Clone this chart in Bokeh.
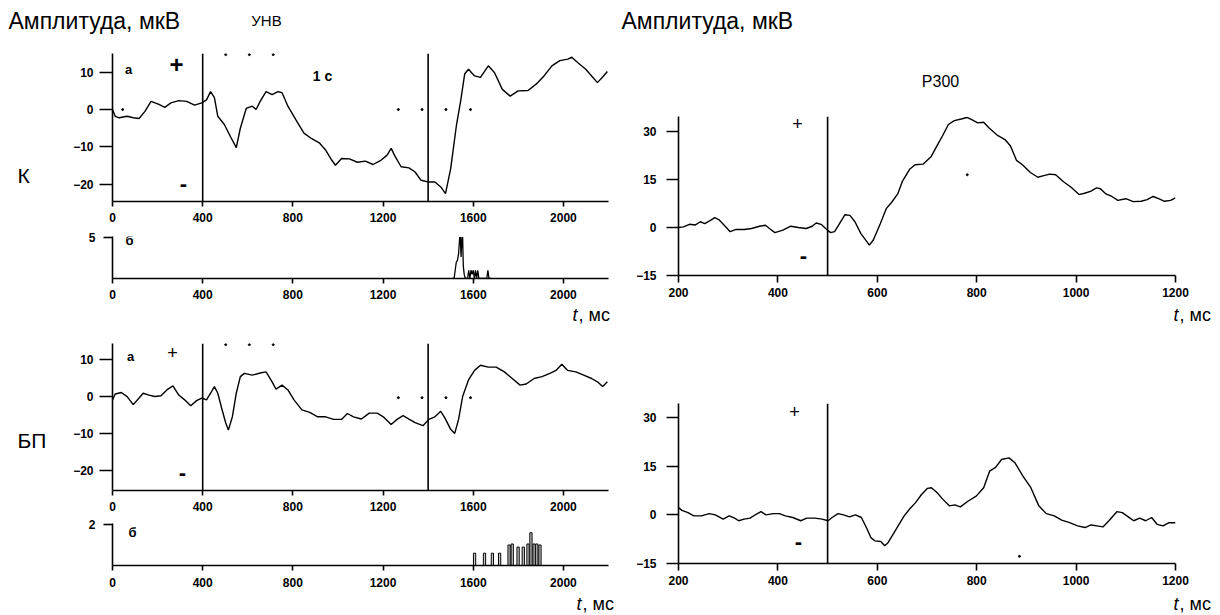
from bokeh.plotting import figure
from bokeh.models import Range1d, FixedTicker, Label, Span
from bokeh.layouts import row, column
from bokeh.embed import file_html
from bokeh.resources import INLINE

# ---------------- data ----------------
# K, panel a: averaged potential (mkV) vs time (ms)
K_a_t = [0, 12, 30, 65, 92, 118, 144, 171, 206, 232, 259, 294, 329, 364, 396, 417, 435, 452, 467, 496,
         523, 549, 567, 593, 620, 637, 655, 681, 708, 734, 752, 778, 813, 849, 884, 919, 945, 972, 989, 1016,
         1051, 1086, 1121, 1156, 1192, 1218, 1236, 1254, 1280, 1315, 1342, 1368, 1403, 1430, 1456, 1477, 1500, 1526, 1544, 1562,
         1579, 1606, 1632, 1667, 1694, 1729, 1764, 1799, 1843, 1879, 1914, 1949, 1984, 2020, 2037, 2063, 2099, 2125, 2151, 2178, 2195]
K_a_v = [0, -1.8, -2.2, -1.8, -2.2, -2.4, -0.5, 2.2, 1.4, 0.6, 1.8, 2.4, 2.2, 1.2, 1.8, 2.6, 4.8, 3.2, -1.8, -4,
         -7.2, -10.2, -5, 0.3, 0.9, 0, 2.2, 4.8, 4, 4.8, 4.5, 0.9, -2.7, -6.3, -7.8, -9, -10.8, -13.5, -14.9, -13.1,
         -13.2, -14.1, -13.8, -14.7, -13.5, -12.2, -10.4, -12.6, -15.3, -15.6, -16.7, -18.9, -19.4, -19.4, -20.7, -22.5, -15.8, -4, 2.2, 9.5,
         10.8, 9, 8.6, 11.7, 9.9, 5.4, 3.6, 5, 5.1, 6.8, 9, 11.7, 13.1, 13.5, 14, 12.6, 10.8, 9, 7.2, 9, 10.2]
# K, panel b: histogram
K_hist_t = [1505, 1515, 1520, 1525, 1530, 1535, 1540, 1543, 1546, 1550, 1553, 1556, 1560, 1565, 1575, 1580, 1585, 1590, 1595, 1600,
            1605, 1610, 1615, 1620, 1625, 1660, 1665, 1670, 1680]
K_hist_n = [0, 0, 1, 2, 2.2, 3, 5, 5, 2.6, 5, 5, 1.5, 0.5, 0, 0, 1, 0, 1, 0.5, 1,
            0, 1, 0, 1, 0, 0, 1, 0, 0]
# BP, panel a
B_a_t = [0, 12, 39, 65, 92, 118, 136, 162, 188, 215, 241, 268, 294, 320, 347, 373, 396, 417, 435, 452,
         467, 484, 502, 514, 532, 549, 567, 585, 620, 655, 681, 708, 725, 752, 778, 805, 840, 875, 910, 945,
         981, 1016, 1042, 1069, 1104, 1139, 1174, 1201, 1236, 1262, 1289, 1315, 1342, 1377, 1403, 1430, 1456, 1474, 1500, 1518,
         1535, 1553, 1579, 1606, 1632, 1667, 1702, 1738, 1773, 1808, 1835, 1870, 1905, 1940, 1967, 1993, 2019, 2055, 2090, 2125,
         2151, 2174, 2195]
B_a_v = [-0.9, 0.7, 1.1, 0, -2.2, -0.4, 0.9, 0.4, 0, 0.2, 1.8, 2.9, 0.4, -0.9, -2.5, -1.1, -0.4, -0.9, 0.9, 2.7,
         0.9, -3.1, -7.1, -9.1, -5.4, 0.9, 5.4, 6.3, 5.8, 6.4, 6.7, 4, 2, 3.1, 1.8, -0.9, -3.6, -4.3, -5.5, -5.5,
         -6.2, -6.2, -4.6, -5.5, -6.1, -4.5, -4.5, -5.5, -7.6, -6.2, -5.2, -6.1, -7.1, -7.9, -6.2, -5.5, -4, -5.8, -8.9, -10,
         -6.2, 0, 4.5, 7.1, 8.5, 8, 8, 6.7, 4.9, 3.1, 3.4, 4.9, 5.4, 6.3, 7.1, 8.75, 7.1, 6.7, 5.8, 4.9,
         4, 2.7, 4]
# BP, panel b: histogram spikes
B_hist_t = [1606, 1650, 1685, 1717, 1759, 1773, 1799, 1822, 1843, 1856, 1870, 1882, 1896]
B_hist_n = [0.6, 0.6, 0.6, 0.6, 1.0, 1.05, 0.9, 0.9, 1.05, 1.6, 1.05, 1.05, 1.0]
# P300, K
KP_t = [200, 210, 222, 234, 244, 253, 265, 273, 281, 292, 304, 316, 332, 347, 363, 375, 383, 394, 410, 426,
        441, 457, 469, 477, 487, 496, 506, 514, 524, 535, 545, 555, 567, 579, 584, 592, 606, 618, 629, 641,
        651, 665, 676, 692, 708, 720, 731, 743, 755, 771, 780, 790, 802, 814, 825, 841, 857, 868, 880, 892,
        908, 923, 935, 947, 959, 974, 990, 1006, 1017, 1029, 1041, 1049, 1060, 1072, 1084, 1100, 1115, 1131, 1143, 1155,
        1166, 1178, 1190, 1200]
KP_v = [0, 0.2, 1, 0.8, 1.8, 1.2, 2.3, 3.1, 2.5, 0.7, -1.3, -0.6, -0.6, -0.3, 0.4, 0.7, -0.3, -1.6, -0.8, 0.4,
        0, -0.3, 0.4, 1.4, 1, -0.3, -1.6, -1.3, 1.2, 4, 3.8, 1.8, -1.9, -4.4, -5.5, -3.9, 1.2, 5.9, 7.9, 10.5,
        14.6, 18.2, 19.6, 19.8, 22.1, 25.5, 28.6, 32.2, 33.4, 34, 34.4, 33.7, 32.7, 32.9, 31.1, 28.9, 27.5, 25.5, 21, 19.6,
        17.2, 15.7, 16.2, 16.7, 16.5, 14.4, 12.6, 10.3, 10.7, 11.3, 12.4, 12.1, 10.5, 9.7, 8.5, 9, 8.1, 8.2, 8.7, 9.7,
        9, 8.2, 8.5, 9.3]
# P300, BP
BP_t = [200, 207, 219, 231, 246, 262, 274, 290, 302, 313, 321, 332, 344, 356, 366, 376, 391, 403, 415, 430,
        446, 458, 474, 489, 501, 509, 521, 532, 544, 556, 568, 578, 587, 595, 607, 615, 622, 638, 654, 666,
        677, 689, 701, 709, 720, 732, 745, 756, 767, 783, 799, 814, 826, 838, 850, 865, 877, 893, 909, 925,
        940, 956, 971, 987, 1003, 1018, 1030, 1042, 1054, 1066, 1082, 1093, 1105, 1116, 1128, 1140, 1152, 1163, 1175, 1187,
        1200]
BP_v = [2.3, 1.4, 0.7, -0.3, -0.3, 0.4, 0, -1.3, -0.3, -1, -1.8, -1.3, -1, 0.2, 1, 0, 0.4, 0.4, -0.3, -0.8,
        -1.8, -1, -1, -1.3, -1.8, -0.8, 0.4, 0, -0.6, 0, -0.8, -3.9, -7, -8, -8.2, -9.5, -8.5, -4.4, -0.3, 2,
        3.8, 6.3, 8.2, 8.4, 6.9, 4.8, 2.8, 3.1, 2.5, 4.3, 5.8, 8.4, 13.5, 14.7, 17.1, 17.6, 16.1, 12, 8.4, 2.8,
        0.4, -0.3, -1.6, -2.4, -3.4, -3.9, -3.1, -3.4, -3.7, -1.8, 1, 0.7, -0.6, -1.8, -1, -1.8, -0.8, -2.9, -3.4, -2.4,
        -2.4]
# stimulus markers
long_events = [400, 1400]
p300_events = [500]
K_dots_t = [45, 502, 607, 713, 1268, 1373, 1479, 1588]
K_dots_v = [0, 14.7, 14.7, 14.7, 0, 0, 0, 0]
B_dots_t = [502, 607, 713, 1268, 1373, 1479, 1588]
B_dots_v = [14.1, 14.1, 14.1, -0.3, -0.3, -0.3, -0.3]
KP_dot_t, KP_dot_v = [781], [16.5]
BP_dot_t, BP_dot_v = [886], [-12.8]
# axes
long_xticks = [0, 400, 800, 1200, 1600, 2000]
long_yticks = [-20, -10, 0, 10]
p300_xticks = [200, 400, 600, 800, 1000, 1200]
p300_yticks = [-15, 0, 15, 30]

FONT = "Liberation Sans"

# geometry: canvas left, top, width, height, frame left, right, top, bottom (page px)
G_Ka = (62, 40, 558, 186, 112, 608, 53, 201)
G_Kb = (62, 226, 558, 77, 112, 608, 236, 278)
G_Ba = (62, 325, 558, 191, 112, 608, 343, 490)
G_Bb = (62, 516, 558, 76, 112, 608, 523, 565)
G_KP = (620, 100, 596, 200, 678, 1175, 116, 275)
G_BP = (620, 325, 596, 267, 678, 1175, 403, 563)

R_long = (0, 2200)
R_p300 = (200, 1200)


def make_panel(g, xr, yr):
    cl, ct, W, H, fl, fr, ft, fb = g
    p = figure(width=W, height=H, x_range=Range1d(*xr), y_range=Range1d(*yr),
               output_backend="svg", toolbar_location=None,
               min_border_left=fl - cl, min_border_right=cl + W - fr,
               min_border_top=ft - ct, min_border_bottom=ct + H - fb)
    p.outline_line_color = None
    p.grid.visible = False
    p.background_fill_color = "white"
    p.border_fill_color = "white"
    p._geom = (g, xr, yr)
    return p


def text_fig(cl, ct, W, H):
    # a blank canvas whose data coordinates equal page pixels (y downward)
    p = figure(width=W, height=H, x_range=Range1d(cl, cl + W), y_range=Range1d(ct + H, ct),
               output_backend="svg", toolbar_location=None, x_axis_type=None, y_axis_type=None,
               min_border=0, min_border_left=0, min_border_right=0, min_border_top=0, min_border_bottom=0)
    p.outline_line_color = None
    p.grid.visible = False
    p.background_fill_color = "white"
    p.border_fill_color = "white"
    p._geom = ((cl, ct, W, H, cl, cl + W, ct, ct + H), (cl, cl + W), (ct + H, ct))
    return p


def style_axes(p, xticks, yticks, xout, yout, xstand, ystand):
    ax = p.xaxis[0]
    ay = p.yaxis[0]
    ax.ticker = FixedTicker(ticks=xticks)
    ay.ticker = FixedTicker(ticks=yticks)
    ax.major_tick_out = xout
    ay.major_tick_out = yout
    ax.major_label_standoff = xstand
    ay.major_label_standoff = ystand
    for a in (ax, ay):
        a.axis_line_width = 1.6
        a.axis_line_color = "black"
        a.major_tick_line_width = 1.6
        a.major_tick_line_color = "black"
        a.major_tick_in = 0
        a.minor_tick_line_color = None
        a.major_label_text_font = FONT
        a.major_label_text_font_style = "bold"
        a.major_label_text_font_size = "12px"
        a.major_label_text_color = "black"


def text(p, X, Y, s, size, style="normal", align="left"):
    g, xr, yr = p._geom
    cl, ct, W, H, fl, fr, ft, fb = g
    x = xr[0] + (X - fl) / (fr - fl) * (xr[1] - xr[0])
    y = yr[1] - (Y - ft) / (fb - ft) * (yr[1] - yr[0])
    p.add_layout(Label(x=x, y=y, text=s, text_font=FONT, text_font_size=f"{size}px",
                       text_font_style=style, text_align=align, text_baseline="middle",
                       text_color="black"))


def t_ms(p, X, Y):
    text(p, X, Y, "t", 18, "italic")
    text(p, X + 6, Y, ", мс", 18)


# ---- text strips ----
HL = text_fig(0, 0, 620, 40)
text(HL, 8, 20, "Амплитуда, мкВ", 23)
text(HL, 266, 20, "УНВ", 15, align="center")
SK = text_fig(0, 40, 62, 285)
text(SK, 17, 175, "К", 21)
FK = text_fig(62, 303, 558, 22)
t_ms(FK, 572, 314)
SB = text_fig(0, 325, 62, 289)
text(SB, 17, 440, "БП", 21)
FB = text_fig(62, 592, 558, 22)
t_ms(FB, 576, 603)
HR = text_fig(620, 0, 596, 100)
text(HR, 621, 20, "Амплитуда, мкВ", 23)
text(HR, 940, 81, "P300", 16, align="center")
FR1 = text_fig(620, 300, 596, 25)
t_ms(FR1, 1173, 314)
FR2 = text_fig(620, 592, 596, 22)
t_ms(FR2, 1173, 603)

# ---- K, a ----
Ka = make_panel(G_Ka, R_long, (-24.6, 15.0))
style_axes(Ka, long_xticks, long_yticks, 5, 13, 6, 6)
Ka.line(K_a_t, K_a_v, line_color="black", line_width=1.4)
for e in long_events:
    Ka.add_layout(Span(location=e, dimension="height", line_color="black", line_width=1.6))
Ka.scatter(K_dots_t, K_dots_v, size=2, color="black")
text(Ka, 322, 75, "1 с", 14, "bold", align="center")
text(Ka, 128, 69, "а", 13, "bold", align="center")
text(Ka, 176, 64, "+", 24, "bold", align="center")
text(Ka, 183, 183, "-", 22, "bold", align="center")

# ---- K, b ----
Kb = make_panel(G_Kb, R_long, (0, 5.1))
style_axes(Kb, long_xticks, [5], 5, 9, 6, 8)
Kb.line(K_hist_t, K_hist_n, line_color="black", line_width=1.3)
text(Kb, 129, 240, "б", 13, "bold", align="center")

# ---- BP, a ----
Ba = make_panel(G_Ba, R_long, (-25.5, 14.4))
style_axes(Ba, long_xticks, long_yticks, 5, 13, 6, 6)
Ba.line(B_a_t, B_a_v, line_color="black", line_width=1.4)
for e in long_events:
    Ba.add_layout(Span(location=e, dimension="height", line_color="black", line_width=1.6))
Ba.scatter(B_dots_t, B_dots_v, size=2, color="black")
text(Ba, 130, 356, "а", 13, "bold", align="center")
text(Ba, 172, 352, "+", 18, align="center")
text(Ba, 182, 472, "-", 22, "bold", align="center")

# ---- BP, b ----
Bb = make_panel(G_Bb, R_long, (0, 2.05))
style_axes(Bb, long_xticks, [2], 5, 9, 7, 8)
Bb.vbar(x=B_hist_t, top=B_hist_n, bottom=0, width=10, fill_color="#c8c8c8", line_color="black", line_width=1)
text(Bb, 132, 532, "б", 13, "bold", align="center")

# ---- P300, K ----
KP = make_panel(G_KP, R_p300, (-15, 34.7))
style_axes(KP, p300_xticks, p300_yticks, 7, 12, 5, 10)
KP.line(KP_t, KP_v, line_color="black", line_width=1.4)
for e in p300_events:
    KP.add_layout(Span(location=e, dimension="height", line_color="black", line_width=1.6))
KP.scatter(KP_dot_t, KP_dot_v, size=2, color="black")
text(KP, 797, 123, "+", 18, align="center")
text(KP, 803, 255, "-", 22, "bold", align="center")

# ---- P300, BP ----
BP = make_panel(G_BP, R_p300, (-15, 34.4))
style_axes(BP, p300_xticks, p300_yticks, 7, 12, 5, 10)
BP.line(BP_t, BP_v, line_color="black", line_width=1.4)
for e in p300_events:
    BP.add_layout(Span(location=e, dimension="height", line_color="black", line_width=1.6))
BP.scatter(BP_dot_t, BP_dot_v, size=2, color="black")
text(BP, 794, 411, "+", 18, align="center")
text(BP, 798, 541, "-", 22, "bold", align="center")

left = column(HL, row(SK, column(Ka, Kb, row(FK))), row(SB, column(Ba, Bb, row(FB))))
right = column(row(HR), KP, row(FR1), BP, row(FR2))
layout = row(left, right)
open("out.html", "w").write(file_html(layout, INLINE))
